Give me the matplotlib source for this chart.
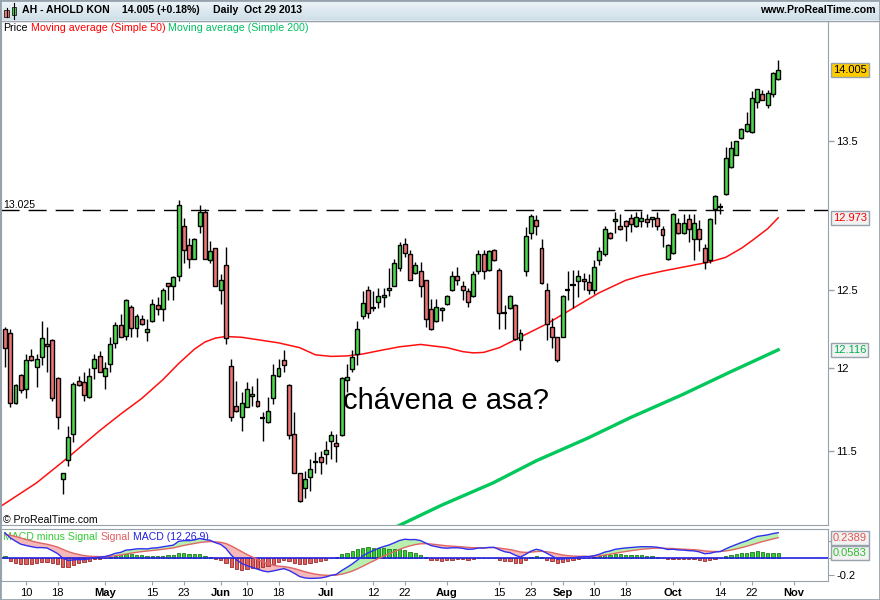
import numpy as np
import pandas as pd
import matplotlib

matplotlib.use("Agg")

import matplotlib.pyplot as plt
from matplotlib.colors import LinearSegmentedColormap
from matplotlib.patches import Rectangle
from matplotlib.ticker import NullLocator

plt.rcParams["font.family"] = ["Liberation Sans", "DejaVu Sans"]

W, H = 880, 600

# Euronext sessions shown on the chart (May 1 closed), plus Oct 30 - Nov 1 for the axis
SESSIONS = pd.bdate_range("2013-04-04", "2013-11-01").drop(pd.Timestamp("2013-05-01"))

OPEN = [
    12.25, 12.22, 11.79, 11.96, 11.87, 12.08, 12.01, 12.07, 12.155, 12.18,
    11.94, 11.33, 11.445, 11.60, 11.925, 11.915, 11.825, 12.0, 12.08, 11.955,
    12.03, 12.16, 12.275, 12.205, 12.39, 12.255, 12.31, 12.23, 12.30, 12.40,
    12.375, 12.54, 12.525, 12.59, 12.92, 12.79, 12.70, 12.915, 13.01, 12.69,
    12.77, 12.50, 12.66, 12.015, 11.77, 11.70, 11.765, 11.83, 11.80, 11.695,
    11.67, 11.815, 11.955, 12.05, 11.90, 11.60, 11.365, 11.28, 11.345, 11.43,
    11.46, 11.48, 11.56, 11.545, 11.596, 11.93, 11.998, 12.092, 12.333, 12.495,
    12.38, 12.42, 12.455, 12.50, 12.52, 12.64, 12.795, 12.735, 12.61, 12.62,
    12.56, 12.375, 12.30, 12.37, 12.41, 12.50, 12.59, 12.52, 12.49, 12.46,
    12.62, 12.735, 12.625, 12.757, 12.625, 12.347, 12.38, 12.40, 12.18, 12.62,
    12.87, 12.957, 12.77, 12.495, 12.26, 12.195, 12.20, 12.495, 12.53, 12.557,
    12.566, 12.55, 12.50, 12.69, 12.735, 12.87, 12.95, 12.915, 12.95, 12.97,
    12.915, 12.95, 12.965, 12.965, 12.975, 12.90, 12.70, 12.74, 12.94, 12.87,
    12.965, 12.83, 12.90, 12.77, 12.69, 13.03, 13.047, 13.135, 13.32, 13.405,
    13.52, 13.57, 13.56, 13.775, 13.835, 13.75, 13.83, 13.94,
]
HIGH = [
    12.26, 12.245, 11.905, 11.965, 12.09, 12.12, 12.09, 12.30, 12.26, 12.185,
    11.945, 11.37, 11.65, 11.915, 11.955, 11.975, 12.0, 12.09, 12.11, 12.04,
    12.195, 12.29, 12.345, 12.44, 12.40, 12.345, 12.335, 12.31, 12.44, 12.45,
    12.51, 12.545, 12.585, 13.095, 12.97, 12.84, 12.835, 13.06, 13.035, 12.82,
    12.775, 12.60, 12.78, 12.06, 11.925, 11.855, 11.915, 11.89, 11.94, 11.735,
    11.825, 12.03, 12.06, 12.117, 11.906, 11.73, 11.365, 11.38, 11.45, 11.49,
    11.50, 11.56, 11.617, 11.60, 11.945, 12.03, 12.117, 12.30, 12.49, 12.52,
    12.49, 12.51, 12.51, 12.64, 12.70, 12.81, 12.84, 12.76, 12.68, 12.68,
    12.565, 12.44, 12.44, 12.39, 12.465, 12.62, 12.645, 12.557, 12.51, 12.62,
    12.757, 12.757, 12.76, 12.765, 12.64, 12.40, 12.465, 12.405, 12.245, 12.91,
    13.0, 12.995, 12.83, 12.54, 12.32, 12.196, 12.465, 12.62, 12.625, 12.625,
    12.61, 12.60, 12.69, 12.78, 12.92, 12.88, 13.01, 12.997, 12.955, 13.0,
    13.015, 13.02, 13.0, 12.98, 13.015, 12.92, 12.795, 13.005, 12.97, 13.0,
    13.0, 13.0, 12.957, 12.80, 12.97, 13.13, 13.075, 13.46, 13.50, 13.50,
    13.59, 13.70, 13.85, 13.87, 13.86, 13.86, 13.99, 14.08,
]
LOW = [
    12.01, 11.76, 11.78, 11.85, 11.82, 12.045, 11.885, 12.02, 11.98, 11.80,
    11.63, 11.245, 11.41, 11.55, 11.89, 11.80, 11.82, 11.935, 11.975, 11.875,
    11.98, 12.125, 12.195, 12.18, 12.20, 12.20, 12.275, 12.17, 12.295, 12.335,
    12.30, 12.43, 12.43, 12.555, 12.67, 12.64, 12.70, 12.87, 12.70, 12.67,
    12.52, 12.41, 12.15, 11.68, 11.73, 11.62, 11.76, 11.77, 11.765, 11.56,
    11.665, 11.78, 11.945, 11.975, 11.57, 11.365, 11.197, 11.22, 11.26, 11.37,
    11.36, 11.42, 11.45, 11.43, 11.59, 11.854, 11.98, 12.02, 12.31, 12.32,
    12.36, 12.383, 12.388, 12.46, 12.52, 12.62, 12.71, 12.56, 12.60, 12.45,
    12.26, 12.24, 12.29, 12.30, 12.40, 12.49, 12.53, 12.43, 12.39, 12.455,
    12.60, 12.57, 12.62, 12.685, 12.25, 12.25, 12.375, 12.18, 12.117, 12.59,
    12.83, 12.86, 12.535, 12.18, 12.13, 12.04, 12.195, 12.43, 12.38, 12.45,
    12.50, 12.47, 12.47, 12.66, 12.72, 12.83, 12.87, 12.89, 12.82, 12.88,
    12.91, 12.91, 12.91, 12.91, 12.89, 12.78, 12.69, 12.735, 12.865, 12.865,
    12.81, 12.69, 12.75, 12.635, 12.67, 12.93, 13.0, 13.13, 13.31, 13.40,
    13.51, 13.56, 13.555, 13.73, 13.785, 13.735, 13.81, 13.935,
]
CLOSE = [
    12.13, 11.79, 11.90, 11.865, 12.05, 12.05, 12.06, 12.19, 12.14, 11.82,
    11.705, 11.37, 11.58, 11.905, 11.90, 11.835, 11.955, 12.06, 11.98, 12.0,
    12.155, 12.275, 12.20, 12.435, 12.255, 12.33, 12.28, 12.25, 12.41, 12.375,
    12.50, 12.52, 12.58, 13.06, 12.76, 12.70, 12.83, 13.01, 12.70, 12.75,
    12.52, 12.56, 12.19, 11.70, 11.74, 11.79, 11.87, 11.845, 11.77, 11.695,
    11.74, 11.96, 12.0, 12.023, 11.596, 11.37, 11.207, 11.33, 11.39, 11.43,
    11.43, 11.505, 11.596, 11.53, 11.94, 11.95, 12.07, 12.25, 12.415, 12.347,
    12.38, 12.46, 12.467, 12.51, 12.67, 12.79, 12.74, 12.56, 12.66, 12.52,
    12.31, 12.25, 12.39, 12.383, 12.46, 12.59, 12.56, 12.495, 12.42, 12.60,
    12.735, 12.62, 12.75, 12.69, 12.35, 12.347, 12.46, 12.186, 12.22, 12.85,
    12.985, 12.92, 12.54, 12.28, 12.20, 12.05, 12.46, 12.495, 12.53, 12.585,
    12.557, 12.50, 12.65, 12.75, 12.90, 12.84, 12.965, 12.90, 12.915, 12.93,
    12.976, 12.97, 12.945, 12.976, 12.92, 12.86, 12.79, 13.0, 12.87, 12.94,
    12.90, 12.94, 12.83, 12.68, 12.965, 13.12, 13.047, 13.38, 13.45, 13.50,
    13.58, 13.62, 13.80, 13.865, 13.79, 13.84, 13.98, 14.005,
]

# moving averages at a few sessions
MA50_IDX = [-1, 6, 12, 18, 22, 26, 30, 33, 36, 38, 40, 42, 45, 47, 50, 52, 56, 59,
            62, 65, 68, 71, 75, 79, 84, 87, 89, 91, 94, 97, 100, 103, 106, 109,
            113, 118, 121, 125, 128, 131, 134, 137, 140, 142, 145, 147]
MA50_VAL = [11.17, 11.31, 11.46, 11.62, 11.72, 11.815, 11.93, 12.03, 12.12, 12.165,
            12.19, 12.20, 12.195, 12.185, 12.17, 12.16, 12.13, 12.085, 12.075, 12.078,
            12.09, 12.11, 12.135, 12.15, 12.13, 12.105, 12.097, 12.10, 12.13, 12.18,
            12.23, 12.28, 12.34, 12.40, 12.48, 12.56, 12.59, 12.62, 12.64, 12.66,
            12.68, 12.71, 12.77, 12.82, 12.90, 12.973]
MA200_IDX = [74.7, 83, 92.8, 101, 110.8, 119, 128.9, 138, 147]
MA200_VAL = [11.06, 11.18, 11.31, 11.44, 11.575, 11.70, 11.84, 11.98, 12.116]

# MACD(12,26,9) state before the first session
EMA12_SEED, EMA26_SEED, SIGNAL_SEED = 12.26, 11.93, 0.27

RESISTANCE = 13.025
LAST_MA50, LAST_MA200 = 12.973, 12.116
LAST_SIGNAL, LAST_HIST = 0.2389, 0.0583

TICK_DATES = ["2013-04-10", "2013-04-18", "2013-05-02", "2013-05-15", "2013-05-23",
              "2013-06-03", "2013-06-10", "2013-06-18", "2013-07-01", "2013-07-12",
              "2013-07-22", "2013-08-01", "2013-08-15", "2013-08-23", "2013-09-02",
              "2013-09-10", "2013-09-18", "2013-10-01", "2013-10-14", "2013-10-22",
              "2013-11-01"]
TICK_LABELS = ["10", "18", "May", "15", "23", "Jun", "10", "18", "Jul", "12", "22",
               "Aug", "15", "23", "Sep", "10", "18", "Oct", "14", "22", "Nov"]
MONTHS = {"May", "Jun", "Jul", "Aug", "Sep", "Oct", "Nov"}

GREEN = "#4cd84c"
RED = "#ef7474"
FRAME = "#96a3ad"


def box(x0, y0, x1, y1):
    return [x0 / W, 1 - y1 / H, (x1 - x0) / W, (y1 - y0) / H]


def ema(values, span, seed):
    a = 2.0 / (span + 1)
    out, prev = [], seed
    for v in values:
        prev = prev + a * (v - prev)
        out.append(prev)
    return np.array(out)


def text_row(owner, x_px, y_px, parts, size, weight="normal", zorder=3, gap=3):
    r = fig.canvas.get_renderer()
    for s, c in parts:
        t = owner.text(x_px / W, 1 - y_px / H, s, color=c, fontsize=size,
                       fontweight=weight, va="center", ha="left",
                       transform=fig.transFigure, zorder=zorder)
        x_px += t.get_window_extent(r).width + gap


o, h, l, c = (np.array(a) for a in (OPEN, HIGH, LOW, CLOSE))
x = np.arange(len(c))
tick_idx = [SESSIONS.get_loc(pd.Timestamp(d)) for d in TICK_DATES]
xlim = ((1 - 5) / 5.26, (828 - 5) / 5.26)

fig = plt.figure(figsize=(W / 100, H / 100), dpi=100)

# header bar
hdr = fig.add_axes(box(0, 0, 880, 20))
grad = LinearSegmentedColormap.from_list("hdr", ["#cfdfe8", "#eef5f9"])
hdr.imshow(np.linspace(0, 1, 50).reshape(-1, 1), cmap=grad, aspect="auto",
           extent=[0, 1, 0, 1], origin="lower")
hdr.axis("off")
for (x0, y0, x1, y1, wy0, wy1, col) in [(4, 10, 9, 17, 7.5, 17, RED),
                                         (11.5, 6.5, 16, 15, 3, 18.5, GREEN)]:
    fig.add_artist(plt.Line2D([(x0 + x1) / 2 / W] * 2, [1 - wy0 / H, 1 - wy1 / H],
                              color="black", lw=0.8, transform=fig.transFigure))
    fig.add_artist(Rectangle((x0 / W, 1 - y1 / H), (x1 - x0) / W, (y1 - y0) / H,
                             fc=col, ec="#333333", lw=0.7, transform=fig.transFigure))
fig.text(22 / W, 1 - 10 / H, "AH - AHOLD KON", fontsize=7.6, fontweight="bold", va="center")
fig.text(122 / W, 1 - 10 / H, "14.005 (+0.18%)", fontsize=7.6, fontweight="bold", va="center")
fig.text(213 / W, 1 - 10 / H, "Daily  Oct 29 2013", fontsize=7.6, fontweight="bold", va="center")
fig.text(876 / W, 1 - 10 / H, "www.ProRealTime.com", fontsize=7.6, fontweight="bold",
         va="center", ha="right")

# price panel
ax = fig.add_axes(box(1, 21, 828, 525))
ax.set_yscale("log")
ax.set_xlim(*xlim)
ax.set_ylim(11.066, 14.364)

ax.vlines(x, l, h, color="black", lw=1, zorder=3)
up, down, flat = c > o, c < o, c == o
ax.bar(x[up], (c - o)[up], bottom=o[up], width=0.75, color=GREEN,
       edgecolor="black", lw=1, zorder=4)
ax.bar(x[down], (o - c)[down], bottom=c[down], width=0.75, color=RED,
       edgecolor="black", lw=1, zorder=4)
ax.hlines(c[flat], x[flat] - 0.5, x[flat] + 0.5, color="black", lw=1.6, zorder=4)

ax.plot(MA50_IDX, MA50_VAL, color="#ff1010", lw=1.1, zorder=2)
ax.plot(MA200_IDX, MA200_VAL, color="#00c85a", lw=2.4, zorder=2)
ax.axhline(RESISTANCE, color="black", lw=1, dashes=(13, 6.5), zorder=2)
ax.text(0.003, RESISTANCE, "13.025", transform=ax.get_yaxis_transform(),
        fontsize=7.6, va="bottom", ha="left")

ax.set_xticks([])
ax.yaxis.tick_right()
ax.yaxis.set_minor_locator(NullLocator())
ax.set_yticks([11.5, 12, 12.5, 13.5])
ax.set_yticklabels(["11.5", "12", "12.5", "13.5"])
ax.tick_params(axis="y", direction="out", length=4, width=1, color=FRAME,
               labelsize=8, pad=2)
for sp in ax.spines.values():
    sp.set_color(FRAME)

ytr = ax.get_yaxis_transform()
ax.text(1.006, CLOSE[-1], f"{CLOSE[-1]:.3f}", transform=ytr, fontsize=8, va="center",
        bbox=dict(boxstyle="square,pad=0.18", fc="#ffcc00", ec=FRAME, lw=1))
ax.text(1.006, LAST_MA50, f"{LAST_MA50:.3f}", transform=ytr, fontsize=8, va="center",
        color="#ff0000", bbox=dict(boxstyle="square,pad=0.18", fc="#f2f2f2", ec=FRAME, lw=1))
ax.text(1.006, LAST_MA200, f"{LAST_MA200:.3f}", transform=ytr, fontsize=8, va="center",
        color="#00b050", bbox=dict(boxstyle="square,pad=0.18", fc="#f2f2f2", ec=FRAME, lw=1))

text_row(fig, 3, 28, [("Price", "black"), ("Moving average (Simple 50)", "#ff0000"),
                      ("Moving average (Simple 200)", "#00c060")], 7.7)
fig.text(343 / W, 1 - 409 / H, "chávena e asa?", fontsize=21, va="baseline")
fig.text(3 / W, 1 - 520 / H, "© ProRealTime.com", fontsize=7.6, va="center")

# MACD panel
ema12 = ema(c, 12, EMA12_SEED)
ema26 = ema(c, 26, EMA26_SEED)
macd = ema12 - ema26
signal = ema(macd, 9, SIGNAL_SEED)
hist = macd - signal

ax2 = fig.add_axes(box(1, 529, 828, 581))
ax2.set_xlim(*xlim)
ax2.set_ylim(-0.27, 0.341)
pos = hist >= 0
ax2.bar(x[pos], hist[pos], width=0.62, color="#33cc33", edgecolor="#1d7a1d", lw=0.6, zorder=2)
ax2.bar(x[~pos], hist[~pos], width=0.62, color="#e06060", edgecolor="#9a2a2a", lw=0.6, zorder=2)
ax2.fill_between(x, macd, signal, where=macd >= signal, interpolate=True,
                 color="#b8f0b0", lw=0, zorder=1.5)
ax2.fill_between(x, macd, signal, where=macd < signal, interpolate=True,
                 color="#f6b8b8", lw=0, zorder=1.5)
ax2.axhline(0, color="#2020e0", lw=1.2, zorder=3)
ax2.plot(x, signal, color="#e06666", lw=1, zorder=3)
ax2.plot(x, macd, color="#3030f0", lw=1, zorder=3)
text_row(ax2, 3, 537, [("MACD minus Signal", "#33cc33"), ("Signal", "#e06060"),
                       ("MACD (12,26,9)", "#2020e0")], 7.6, zorder=1)

ax2.set_xticks(tick_idx)
ax2.set_xticklabels(TICK_LABELS)
for lab in ax2.get_xticklabels():
    if lab.get_text() in MONTHS:
        lab.set_fontweight("bold")
ax2.tick_params(axis="x", direction="out", length=3, color=FRAME, labelsize=8, pad=2)
ax2.yaxis.tick_right()
# 0.2 and 0 sit behind the value boxes, only -0.2 shows
ax2.set_yticks([-0.2, 0, 0.2])
ax2.set_yticklabels(["-0.2", "", ""])
ax2.tick_params(axis="y", direction="out", length=4, color=FRAME, labelsize=8, pad=2)
for sp in ax2.spines.values():
    sp.set_color(FRAME)
ytr2 = ax2.get_yaxis_transform()
ax2.text(1.006, LAST_SIGNAL, f"{LAST_SIGNAL:.4f}", transform=ytr2, fontsize=8, va="center",
         color="#e05555", zorder=5,
         bbox=dict(boxstyle="square,pad=0.18", fc="#f2f2f2", ec=FRAME, lw=1))
ax2.text(1.006, LAST_HIST, f"{LAST_HIST:.4f}", transform=ytr2, fontsize=8, va="center",
         color="#33bb33", zorder=5,
         bbox=dict(boxstyle="square,pad=0.18", fc="#f2f2f2", ec=FRAME, lw=1))

fig.add_artist(plt.Line2D([0, 1], [1 - 20.5 / H] * 2, color=FRAME, lw=1,
                          transform=fig.transFigure))
fig.add_artist(Rectangle((0, 0), 1, 1, fill=False, ec=FRAME, lw=2,
                         transform=fig.transFigure))

fig.savefig("out.png", dpi=100)
